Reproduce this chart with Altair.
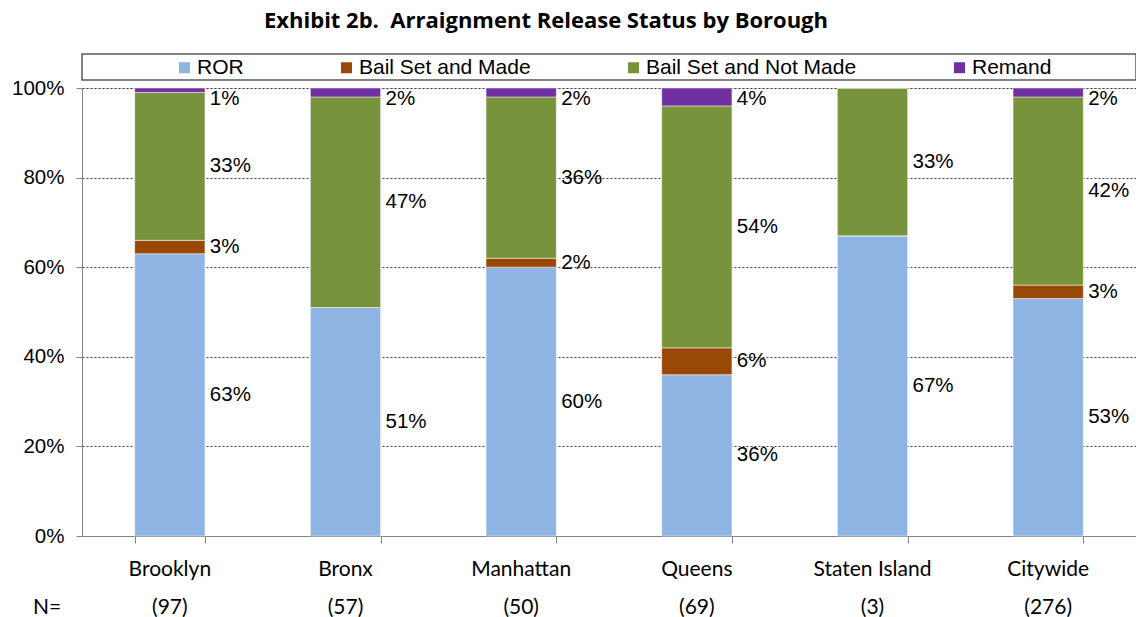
import altair as alt
import pandas as pd

# ---- data ----
boroughs = ["Brooklyn", "Bronx", "Manhattan", "Queens", "Staten Island", "Citywide"]
counts = ["(97)", "(57)", "(50)", "(69)", "(3)", "(276)"]
statuses = ["ROR", "Bail Set and Made", "Bail Set and Not Made", "Remand"]
ror = [63, 51, 60, 36, 67, 53]
bail_made = [3, 0, 2, 6, 0, 3]
bail_not_made = [33, 47, 36, 54, 33, 42]
remand = [1, 2, 2, 4, 0, 2]
colors = ["#8EB4E3", "#9A4806", "#77933C", "#7030A0"]

series = [ror, bail_made, bail_not_made, remand]
rows = []
for i, b in enumerate(boroughs):
    for j, s in enumerate(statuses):
        rows.append({"borough": b, "status": s, "ord": j, "value": series[j][i]})
df = pd.DataFrame(rows)
cat_df = pd.DataFrame({"borough": boroughs, "n": counts})

W, H = 1054, 448
LABEL_FONT = "Liberation Sans"
CAT_FONT = "Lato"

xenc = alt.X("borough:N", sort=boroughs,
             scale=alt.Scale(paddingInner=0.6, paddingOuter=0.3),
             axis=alt.Axis(labels=False, title=None, domainColor="#868686",
                           tickColor="#868686", tickSize=7, tickBand="extent",
                           grid=False))
yscale = alt.Scale(domain=[0, 100])

box = alt.Chart(pd.DataFrame({"k": [0]})).mark_rect(
    fill="white", stroke="#595959", strokeWidth=1.5
).encode(x=alt.value(0), x2=alt.value(W), y=alt.value(-34), y2=alt.value(-8))

bars = alt.Chart(df).mark_bar(stroke="white", strokeWidth=0.5).encode(
    x=xenc,
    y=alt.Y("value:Q", stack="zero", scale=yscale,
            axis=alt.Axis(values=[0, 20, 40, 60, 80, 100], labelExpr="datum.value + '%'",
                          title=None, grid=True, gridDash=[2, 2], gridColor="#404040",
                          gridWidth=1, domainColor="#868686", tickColor="#868686",
                          tickSize=6, labelFont=LABEL_FONT, labelFontSize=20.5,
                          labelColor="black", labelPadding=12)),
    color=alt.Color("status:N", scale=alt.Scale(domain=statuses, range=colors),
                    legend=alt.Legend(orient="none", legendX=92, legendY=-31,
                                      direction="horizontal", columns=4, title=None,
                                      symbolType="square", symbolSize=121,
                                      symbolStrokeWidth=0, labelFont=LABEL_FONT,
                                      labelFontSize=21, labelColor="black",
                                      labelLimit=400, labelOffset=2,
                                      columnPadding=92, padding=0)),
    order=alt.Order("ord:Q", sort="ascending"),
)

labels = alt.Chart(df).transform_stack(
    stack="value", groupby=["borough"], as_=["y0", "y1"],
    sort=[alt.SortField("ord", order="ascending")]
).transform_filter("datum.value > 0").transform_calculate(
    mid="min((datum.y0 + datum.y1) / 2, 97.6)",
    lbl="datum.value + '%'"
).mark_text(align="left", baseline="middle", dx=40, font=LABEL_FONT,
            fontSize=20.5, color="black").encode(
    x=alt.X("borough:N", sort=boroughs),
    y=alt.Y("mid:Q", scale=yscale),
    text="lbl:N",
)

cat_labels = alt.Chart(cat_df).mark_text(baseline="middle", font=CAT_FONT,
                                         fontSize=21, color="black").encode(
    x=alt.X("borough:N", sort=boroughs), y=alt.value(H + 34), text="borough:N")
n_labels = alt.Chart(cat_df).mark_text(baseline="middle", font=CAT_FONT,
                                       fontSize=21, color="black").encode(
    x=alt.X("borough:N", sort=boroughs), y=alt.value(H + 72), text="n:N")
n_head = alt.Chart(pd.DataFrame({"t": ["N="]})).mark_text(
    baseline="middle", font=CAT_FONT, fontSize=21, color="black"
).encode(x=alt.value(-35), y=alt.value(H + 72), text="t:N")

chart = alt.layer(box, bars, labels, cat_labels, n_labels, n_head).properties(
    width=W, height=H,
    title=alt.TitleParams("Exhibit 2b.\u00a0 Arraignment Release Status by Borough",
                          font="Open Sans", fontSize=22, fontWeight="bold",
                          anchor="middle", frame="group", dx=-63, offset=20,
                          color="black"),
    autosize=alt.AutoSizeParams(type="none"),
    padding={"left": 82, "top": 88, "right": 0, "bottom": 81},
).configure_view(strokeWidth=0).configure(background="white")

chart.save("out.html", embed_options={"renderer": "svg", "actions": False})
